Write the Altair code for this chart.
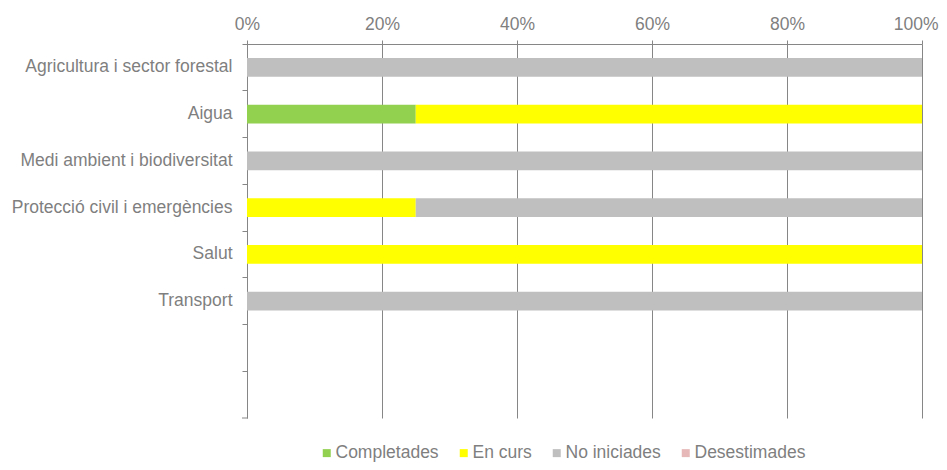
import altair as alt
import pandas as pd

categories = [
    "Agricultura i sector forestal",
    "Aigua",
    "Medi ambient i biodiversitat",
    "Protecció civil i emergències",
    "Salut",
    "Transport",
]
empty_slots = ["_e1", "_e2"]
statuses = ["Completades", "En curs", "No iniciades", "Desestimades"]
colors = ["#92d050", "#ffff00", "#bfbfbf", "#e6b9b8"]

completades = [0, 1, 0, 0, 0, 0]
en_curs = [0, 3, 0, 1, 1, 0]
no_iniciades = [1, 0, 1, 3, 0, 1]
desestimades = [0, 0, 0, 0, 0, 0]

rows = []
for i, c in enumerate(categories):
    for s, vals in zip(statuses, [completades, en_curs, no_iniciades, desestimades]):
        if vals[i] > 0:
            rows.append({"cat": c, "status": s, "n": int(vals[i])})
df = pd.DataFrame(rows)

FONT = "Liberation Sans"
TXT = "#7f7f7f"
LINE = "#868686"
W, H = 675, 374

bars = alt.Chart(df).mark_bar(height={"band": 0.4}).encode(
    y=alt.Y(
        "cat:N",
        scale=alt.Scale(domain=categories + empty_slots, paddingInner=0, paddingOuter=0),
        axis=alt.Axis(
            title=None,
            bandPosition=0,
            tickSize=5,
            tickColor=LINE,
            domainColor=LINE,
            labelPadding=10,
            labelFontSize=17.5,
            labelColor=TXT,
            labelFont=FONT,
            labelLimit=400,
            labelExpr="indexof(datum.value, '_e') == 0 ? '' : datum.value",
            grid=False,
        ),
    ),
    x=alt.X(
        "n:Q",
        stack="normalize",
        axis=alt.Axis(
            orient="top",
            title=None,
            format="%",
            values=[0, 0.2, 0.4, 0.6, 0.8, 1.0],
            tickSize=4,
            tickColor=LINE,
            domainColor=LINE,
            gridColor=LINE,
            grid=True,
            labelPadding=7,
            labelFontSize=17.5,
            labelColor=TXT,
            labelFont=FONT,
            labelFlush=False,
            labelAlign={"condition": {"test": "datum.value == 1", "value": "right"}, "value": "center"},
            labelOffset={"condition": {"test": "datum.value == 1", "value": 16}, "value": 0},
        ),
    ),
    color=alt.Color(
        "status:N",
        sort=statuses,
        scale=alt.Scale(domain=statuses, range=colors),
        legend=alt.Legend(
            title=None,
            orient="none",
            direction="horizontal",
            legendX=71,
            legendY=400,
            symbolType="square",
            symbolSize=64,
            symbolStrokeWidth=0,
            labelFontSize=17.5,
            labelColor=TXT,
            labelFont=FONT,
            labelOffset=0,
            columnPadding=16,
            padding=0,
            labelLimit=300,
        ),
    ),
)

end_tick = alt.Chart(pd.DataFrame({"k": [0]})).mark_rule(color=LINE, strokeWidth=1).encode(
    x=alt.value(-5), x2=alt.value(0), y=alt.value(H)
)

chart = alt.layer(bars, end_tick).properties(
    width=W,
    height=H,
    autosize=alt.AutoSizeParams(type="none"),
    padding={"left": 239, "top": 36, "right": 17, "bottom": 44},
).configure_view(stroke=None)

chart.save("out.html", embed_options={"renderer": "svg", "actions": False})
